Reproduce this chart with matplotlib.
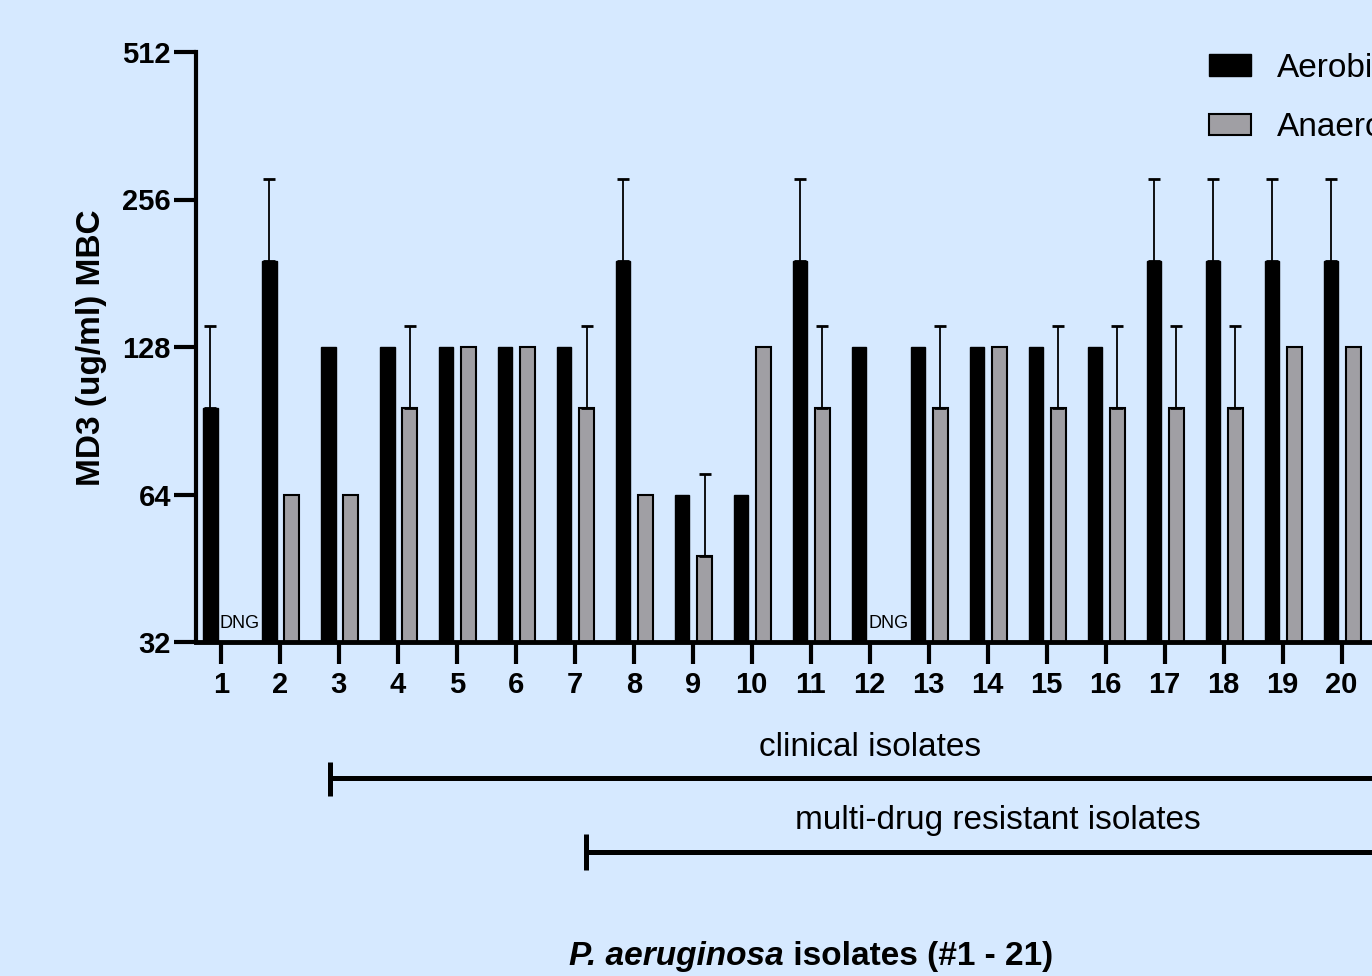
import matplotlib
matplotlib.use("Agg")
import matplotlib.pyplot as plt
import matplotlib.transforms as mtransforms
from matplotlib.patches import Patch
import numpy as np

plt.rcParams['font.family'] = ['Liberation Sans', 'DejaVu Sans']

# data: MBC (ug/ml) per isolate, None = did not grow
isolates = list(range(1, 22))
aerobic = [96, 192, 128, 128, 128, 128, 128, 192, 64, 64, 192, 128, 128, 128, 128, 128, 192, 192, 192, 192, 192]
aerobic_err = [45.25, 90.5, 0, 0, 0, 0, 0, 90.5, 0, 0, 90.5, 0, 0, 0, 0, 0, 90.5, 90.5, 90.5, 90.5, 90.5]
anaerobic = [None, 64, 64, 96, 128, 128, 96, 64, 48, 128, 96, None, 96, 128, 96, 96, 96, 96, 128, 128, 128]
anaerobic_err = [0, 0, 0, 45.25, 0, 0, 45.25, 0, 22.6, 0, 45.25, 0, 45.25, 0, 45.25, 45.25, 45.25, 45.25, 0, 0, 0]
yticks = [32, 64, 128, 256, 512]

bg = '#D6E9FF'
gray = '#A09FA4'
W, H = 1372, 976

fig = plt.figure(figsize=(W / 100, H / 100), dpi=100, facecolor=bg)
ax = fig.add_axes([196 / W, 1 - 642 / H, (1436 - 196) / W, (642 - 52) / H])
ax.set_facecolor(bg)

ax.set_yscale('log', base=2)
ax.set_ylim(32, 512)
ax.set_xlim(0.58, 21.6)

x = np.array(isolates, dtype=float)
bw = 0.25
base = 32

# aerobic bars
ax.bar(x - 0.18, [v - base for v in aerobic], bottom=base, width=bw,
       color='black', edgecolor='black', linewidth=1, zorder=2)
for xi, v, e in zip(x, aerobic, aerobic_err):
    if e > 0:
        ax.errorbar(xi - 0.18, v, yerr=[[0], [e]], fmt='none', ecolor='black',
                    elinewidth=1.3, capsize=4, capthick=2, zorder=3)

# anaerobic bars
for xi, v, e in zip(x, anaerobic, anaerobic_err):
    if v is None:
        ax.text(xi + 0.32, 33.5, 'DNG', ha='center', va='bottom', fontsize=13)
        continue
    ax.bar(xi + 0.2, v - base, bottom=base, width=bw, color=gray,
           edgecolor='black', linewidth=1.5, zorder=2)
    if e > 0:
        ax.errorbar(xi + 0.2, v, yerr=[[0], [e]], fmt='none', ecolor='black',
                    elinewidth=1.3, capsize=4, capthick=2, zorder=3)

# axes styling
for s in ['top', 'right']:
    ax.spines[s].set_visible(False)
ax.spines['left'].set_linewidth(3)
ax.spines['bottom'].set_linewidth(3.5)
ax.set_yticks(yticks)
ax.set_yticklabels([str(t) for t in yticks])
ax.minorticks_off()
ax.set_xticks(x)
ax.set_xticklabels([str(i) for i in isolates])
ax.tick_params(axis='both', width=3, length=16, labelsize=21, direction='out')
ax.tick_params(axis='y', pad=2)
ax.tick_params(axis='x', pad=5)
for lab in ax.get_xticklabels() + ax.get_yticklabels():
    lab.set_fontweight('bold')

fig.text(92 / W, 1 - 348 / H, 'MD3 (ug/ml) MBC', rotation=90, ha='center', va='center',
         fontsize=24, fontweight='bold')

# group brackets
tr = mtransforms.blended_transform_factory(ax.transData, fig.transFigure)
brackets = [(2.85, 21.15, 778, 762, 796, 748, 'clinical isolates'),
            (7.19, 21.15, 852, 834, 870, 821, 'multi-drug resistant isolates')]
for x0, x1, yl, yc0, yc1, yt, label in brackets:
    ax.plot([x0, x1], [1 - yl / H, 1 - yl / H], color='black', lw=3.6,
            transform=tr, clip_on=False, solid_capstyle='butt')
    ax.plot([x0, x0], [1 - yc0 / H, 1 - yc1 / H], color='black', lw=3.6,
            transform=tr, clip_on=False, solid_capstyle='butt')
    ax.text((x0 + x1) / 2, 1 - yt / H, label, ha='center', va='center',
            fontsize=24, transform=tr)

# x axis title, species name in italics
fig.canvas.draw()
t1 = fig.text(0, 1 - 957 / H, 'P. aeruginosa', fontsize=24, fontweight='bold',
              fontstyle='italic', va='center')
t2 = fig.text(0, 1 - 957 / H, ' isolates (#1 - 21)', fontsize=24, fontweight='bold',
              va='center')
r = fig.canvas.get_renderer()
w1 = t1.get_window_extent(r).width
w2 = t2.get_window_extent(r).width
cx = ax.transData.transform((11, 0))[0]
left = cx - (w1 + w2) / 2
t1.set_x(left / W)
t2.set_x((left + w1) / W)

# legend
handles = [Patch(facecolor='black', edgecolor='black', label='Aerobic'),
           Patch(facecolor=gray, edgecolor='black', linewidth=1.5, label='Anaerobic')]
fig.legend(handles=handles, loc='upper left', bbox_to_anchor=(1209 / W, 1 - 53 / H),
           frameon=False, fontsize=24, handlelength=1.27, handleheight=0.62,
           handletextpad=0.76, labelspacing=0.85, borderpad=0, borderaxespad=0)

fig.savefig('out.png', dpi=100, facecolor=bg)
